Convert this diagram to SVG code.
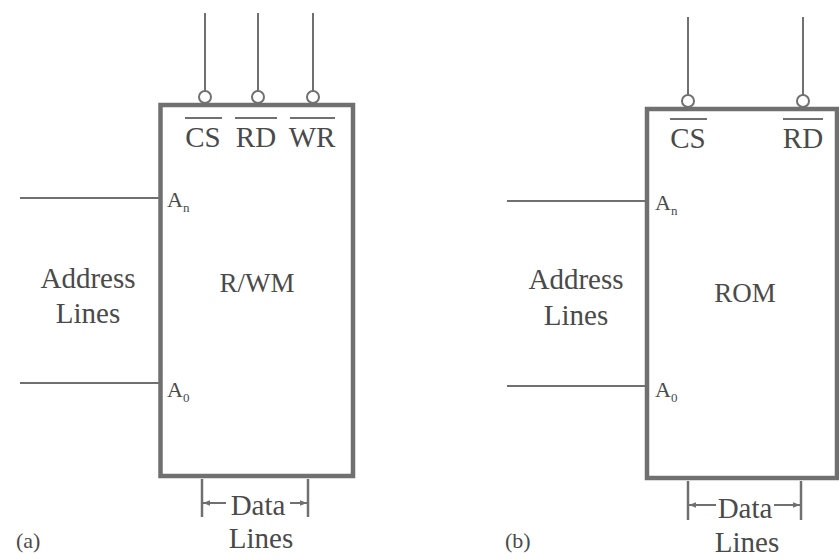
<svg xmlns="http://www.w3.org/2000/svg" width="839" height="559" viewBox="0 0 839 559">
<defs>
<style>
.box{fill:#fff;stroke:#707070;stroke-width:4.5}
.ln{stroke:#707070;stroke-width:2;fill:none}
.bub{fill:#fff;stroke:#707070;stroke-width:2}
.t{font-family:"Liberation Serif","Times New Roman",serif;fill:#4a4a4a}
.big{font-size:29px}
.mid{font-size:27px}
.sig{font-size:29px}
.a{font-size:22px}
.sub{font-size:13px}
.tk{stroke:#707070;stroke-width:2.5}
</style>
<marker id="ah" viewBox="0 0 10 10" refX="10" refY="5" markerWidth="7" markerHeight="7" orient="auto-start-reverse" markerUnits="userSpaceOnUse">
<path d="M0,1 L10,5 L0,9 z" fill="#707070"/>
</marker>
</defs>
<rect width="839" height="559" fill="#fff"/>

<g id="connectors">
<line class="ln" x1="205" y1="13" x2="205" y2="91"/>
<line class="ln" x1="258" y1="13" x2="258" y2="91"/>
<line class="ln" x1="313" y1="13" x2="313" y2="91"/>
<line class="ln" x1="20" y1="198" x2="160" y2="198"/>
<line class="ln" x1="20" y1="383" x2="160" y2="383"/>
<line class="ln" x1="688" y1="17" x2="688" y2="95"/>
<line class="ln" x1="803" y1="17" x2="803" y2="95"/>
<line class="ln" x1="507" y1="201" x2="647" y2="201"/>
<line class="ln" x1="507" y1="386" x2="647" y2="386"/>
</g>

<g id="rwm">
<rect class="box" x="160.5" y="105" width="192.5" height="371"/>
<circle class="bub" cx="205" cy="97" r="6"/>
<circle class="bub" cx="258" cy="97" r="6"/>
<circle class="bub" cx="313" cy="97" r="6"/>
<text class="t sig" x="203" y="147" text-anchor="middle">CS</text>
<text class="t sig" x="256" y="147" text-anchor="middle">RD</text>
<text class="t sig" x="312" y="147" text-anchor="middle">WR</text>
<line class="ln" x1="185" y1="118" x2="222" y2="118"/>
<line class="ln" x1="235" y1="118" x2="277" y2="118"/>
<line class="ln" x1="290" y1="118" x2="335" y2="118"/>
<text class="t a" x="167" y="207">A<tspan class="sub" dy="5">n</tspan></text>
<text class="t a" x="167" y="397">A<tspan class="sub" dy="5">0</tspan></text>
<text class="t mid" x="257" y="292" text-anchor="middle">R/WM</text>
</g>

<g id="rom">
<rect class="box" x="647" y="109" width="190" height="369"/>
<circle class="bub" cx="688" cy="101" r="6"/>
<circle class="bub" cx="803" cy="101" r="6"/>
<text class="t sig" x="688" y="148" text-anchor="middle">CS</text>
<text class="t sig" x="803" y="148" text-anchor="middle">RD</text>
<line class="ln" x1="670" y1="119" x2="707" y2="119"/>
<line class="ln" x1="783" y1="119" x2="823" y2="119"/>
<text class="t a" x="655" y="210">A<tspan class="sub" dy="5">n</tspan></text>
<text class="t a" x="655" y="397">A<tspan class="sub" dy="5">0</tspan></text>
<text class="t mid" x="745" y="302" text-anchor="middle">ROM</text>
</g>

<g id="addr-a">
<text class="t big" x="88" y="288" text-anchor="middle">Address</text>
<text class="t big" x="88" y="323" text-anchor="middle">Lines</text>
</g>
<g id="addr-b">
<text class="t big" x="576" y="289" text-anchor="middle">Address</text>
<text class="t big" x="576" y="325" text-anchor="middle">Lines</text>
</g>

<g id="data-a">
<line class="tk" x1="202" y1="479" x2="202" y2="517"/>
<line class="tk" x1="308" y1="479" x2="308" y2="517"/>
<line class="ln" x1="226" y1="503" x2="203" y2="503" marker-end="url(#ah)"/>
<line class="ln" x1="290" y1="503" x2="307" y2="503" marker-end="url(#ah)"/>
<text class="t big" x="258" y="515" text-anchor="middle">Data</text>
<text class="t big" x="261" y="548" text-anchor="middle">Lines</text>
</g>
<g id="data-b">
<line class="tk" x1="688" y1="481" x2="688" y2="520"/>
<line class="tk" x1="801" y1="481" x2="801" y2="520"/>
<line class="ln" x1="716" y1="505" x2="689" y2="505" marker-end="url(#ah)"/>
<line class="ln" x1="774" y1="505" x2="800" y2="505" marker-end="url(#ah)"/>
<text class="t big" x="745" y="518" text-anchor="middle">Data</text>
<text class="t big" x="747" y="552" text-anchor="middle">Lines</text>
</g>

<g id="label-a"><text class="t a" x="16" y="548">(a)</text></g>
<g id="label-b"><text class="t a" x="505" y="548">(b)</text></g>
</svg>
